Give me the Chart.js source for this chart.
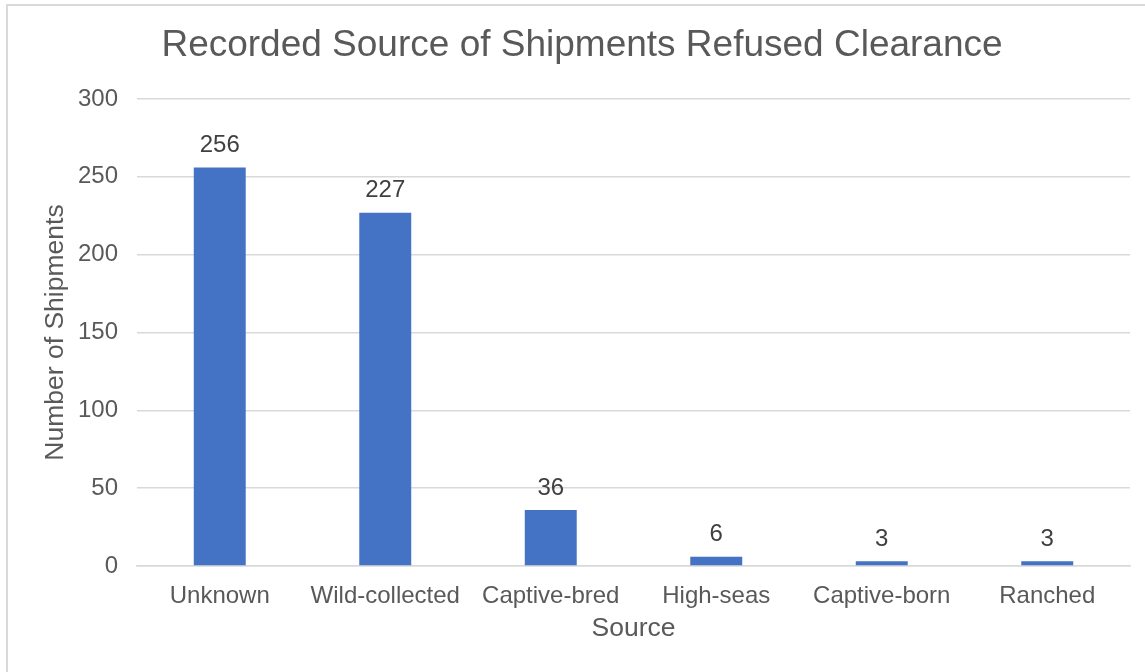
<!DOCTYPE html>
<html>
<head>
<meta charset="utf-8">
<script src="https://cdn.jsdelivr.net/npm/chart.js@4"></script>
<style>
  html, body { margin: 0; padding: 0; background: #fff; overflow: hidden; }
  #frame {
    position: absolute; left: 6px; top: 4px;
    width: 1148px; height: 680px;
    border: 2px solid #dadada;
    background: #fff;
  }
  canvas { display: block; }
</style>
</head>
<body>
<div id="frame"><canvas id="c" width="1148" height="680"></canvas></div>
<script>
const categories = ["Unknown", "Wild-collected", "Captive-bred", "High-seas", "Captive-born", "Ranched"];
const shipments = [256, 227, 36, 6, 3, 3];
const yTicks = [0, 50, 100, 150, 200, 250, 300];

const FONT = "'Liberation Sans', Arial, sans-serif";
const GREY = "#595959";

// Value labels drawn above each bar
const barValueLabels = {
  id: "barValueLabels",
  afterDatasetsDraw(chart) {
    const ctx = chart.ctx;
    const meta = chart.getDatasetMeta(0);
    ctx.save();
    ctx.font = "24px " + FONT;
    ctx.fillStyle = "#404040";
    ctx.textAlign = "center";
    ctx.textBaseline = "middle";
    meta.data.forEach((bar, i) => {
      ctx.fillText(String(shipments[i]), bar.x, bar.y - 22);
    });
    ctx.restore();
  }
};

new Chart(document.getElementById("c"), {
  type: "bar",
  data: {
    labels: categories,
    datasets: [{
      data: shipments,
      backgroundColor: "#4472C4",
      borderWidth: 0,
      barPercentage: 0.314,
      categoryPercentage: 1.0
    }]
  },
  options: {
    responsive: false,
    animation: false,
    layout: { padding: 0 },
    plugins: {
      legend: { display: false },
      tooltip: { enabled: false },
      title: {
        display: true,
        text: "Recorded Source of Shipments Refused Clearance",
        color: GREY,
        font: { family: FONT, size: 37, weight: "normal", lineHeight: 1.2 },
        padding: { top: 17.3, bottom: 31.3 }
      }
    },
    scales: {
      x: {
        grid: { display: false, drawTicks: false },
        border: { display: true, color: "#d9d9d9", width: 1.5 },
        ticks: { color: GREY, font: { family: FONT, size: 24 }, padding: 15.6, maxRotation: 0, autoSkip: false },
        title: {
          display: true, text: "Source", color: GREY,
          font: { family: FONT, size: 26.5, lineHeight: 1.2 },
          padding: { top: 0, bottom: 41.3 }
        },
        afterFit(scale) { scale.height = 120; }
      },
      y: {
        min: 0, max: 300,
        afterBuildTicks(scale) { scale.ticks = yTicks.map(v => ({ value: v })); },
        grid: { color: "#d9d9d9", lineWidth: 1.5, drawTicks: false },
        border: { display: false },
        ticks: { color: GREY, font: { family: FONT, size: 24 }, padding: 19 },
        title: {
          display: true, text: "Number of Shipments", color: GREY,
          font: { family: FONT, size: 26.5, lineHeight: 1.2 },
          padding: { top: 31.3, bottom: 0 }
        },
        afterFit(scale) { scale.width = 129; }
      },
      // empty right-hand margin strip
      yMargin: {
        position: "right",
        min: 0, max: 1,
        grid: { display: false, drawTicks: false },
        border: { display: false },
        ticks: { display: false },
        afterFit(scale) { scale.width = 26; }
      }
    }
  },
  plugins: [barValueLabels]
});
</script>
</body>
</html>
